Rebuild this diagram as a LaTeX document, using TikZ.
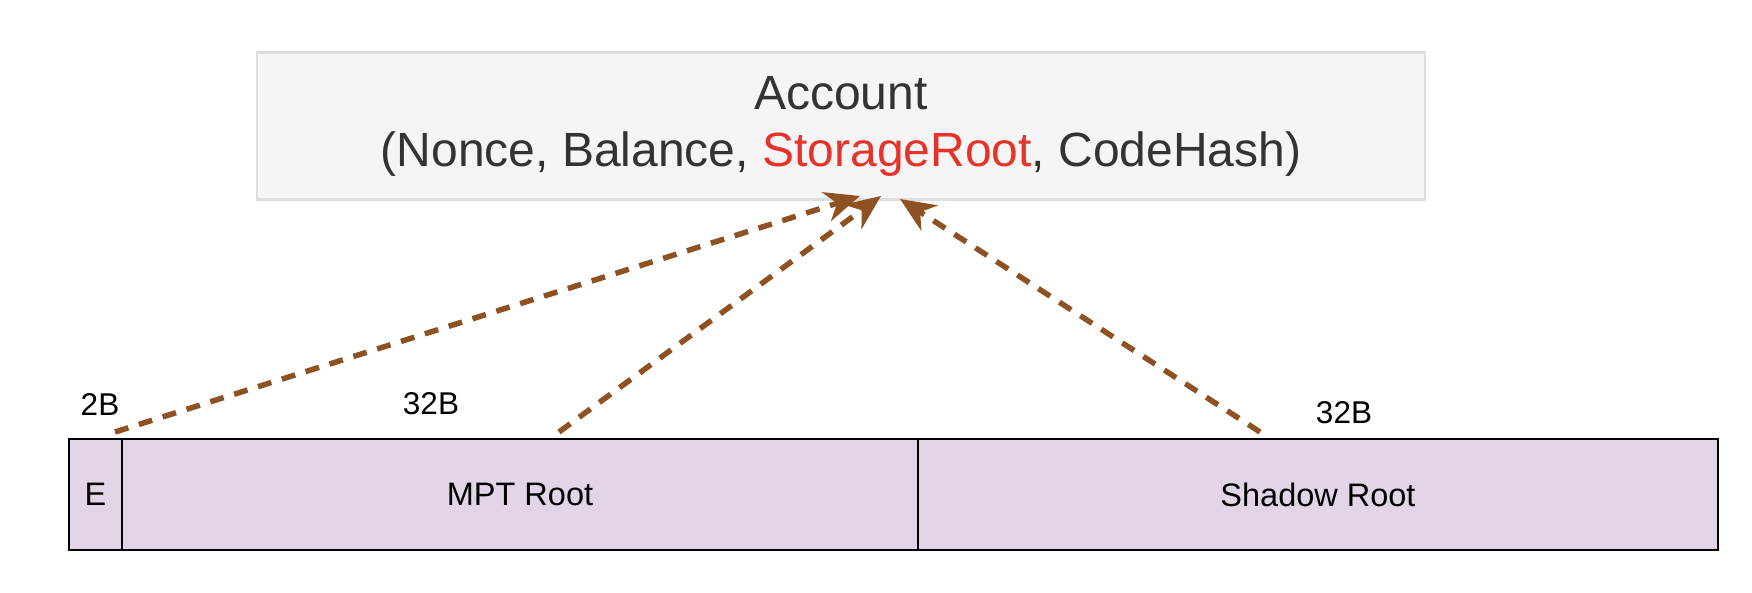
\documentclass[tikz,border=0pt]{standalone}
\usepackage{fontspec}
\setmainfont{Liberation Sans}
\usetikzlibrary{arrows.meta}
\definecolor{acctfill}{HTML}{F5F5F5}
\definecolor{acctline}{HTML}{DEDEDE}
\definecolor{acctext}{HTML}{333333}
\definecolor{rootred}{HTML}{E53329}
\definecolor{cellfill}{HTML}{E1D5E7}
\definecolor{linkbrown}{HTML}{8E5122}

\begin{document}
\begin{tikzpicture}[x=1pt, y=-1pt, >={Stealth[length=35pt,width=30pt,inset=11pt]},
	every node/.style={inner sep=0pt},
	cell/.style={draw=black, line width=2pt, fill=cellfill, minimum height=111pt, font=\fontsize{32.5}{38}\selectfont},
	size/.style={font=\fontsize{31.5}{36}\selectfont},
	link/.style={->, draw=linkbrown, line width=5.5pt, dash pattern=on 14pt off 11pt}]
	\useasboundingbox (0,0) rectangle (1752,592);
	%Account
	\node [draw=acctline, line width=2.5pt, fill=acctfill, minimum width=1168pt, minimum height=147pt, align=center, text=acctext, font=\fontsize{48}{57}\selectfont] (account) at (841,126) {Account\\(Nonce, Balance, \textcolor{rootred}{StorageRoot}, CodeHash)};
	%Fields
	\node [cell, minimum width=53pt] (e) at (95.5,494.5) {E};
	\node [cell, minimum width=796pt] (mpt) at (520,494.5) {MPT Root};
	\node [cell, minimum width=800pt] (shadow) at (1318,494.5) {\raisebox{-5pt}{Shadow Root}};
	%Sizes
	\node [size] (s2) at (100,404) {2B};
	\node [size] (s32a) at (431,404) {32B};
	\node [size] (s32b) at (1344,413) {32B};
	%Links
	\coordinate (eout) at (115,432);
	\coordinate (mptout) at (559,432);
	\coordinate (shadowout) at (1260,432);
	\coordinate (ein) at (860,196);
	\coordinate (mptin) at (881,196);
	\coordinate (shadowin) at (900,199);
	\draw [link] (eout) -- (ein);
	\draw [link] (mptout) -- (mptin);
	\draw [link] (shadowout) -- (shadowin);
\end{tikzpicture}
\end{document}
